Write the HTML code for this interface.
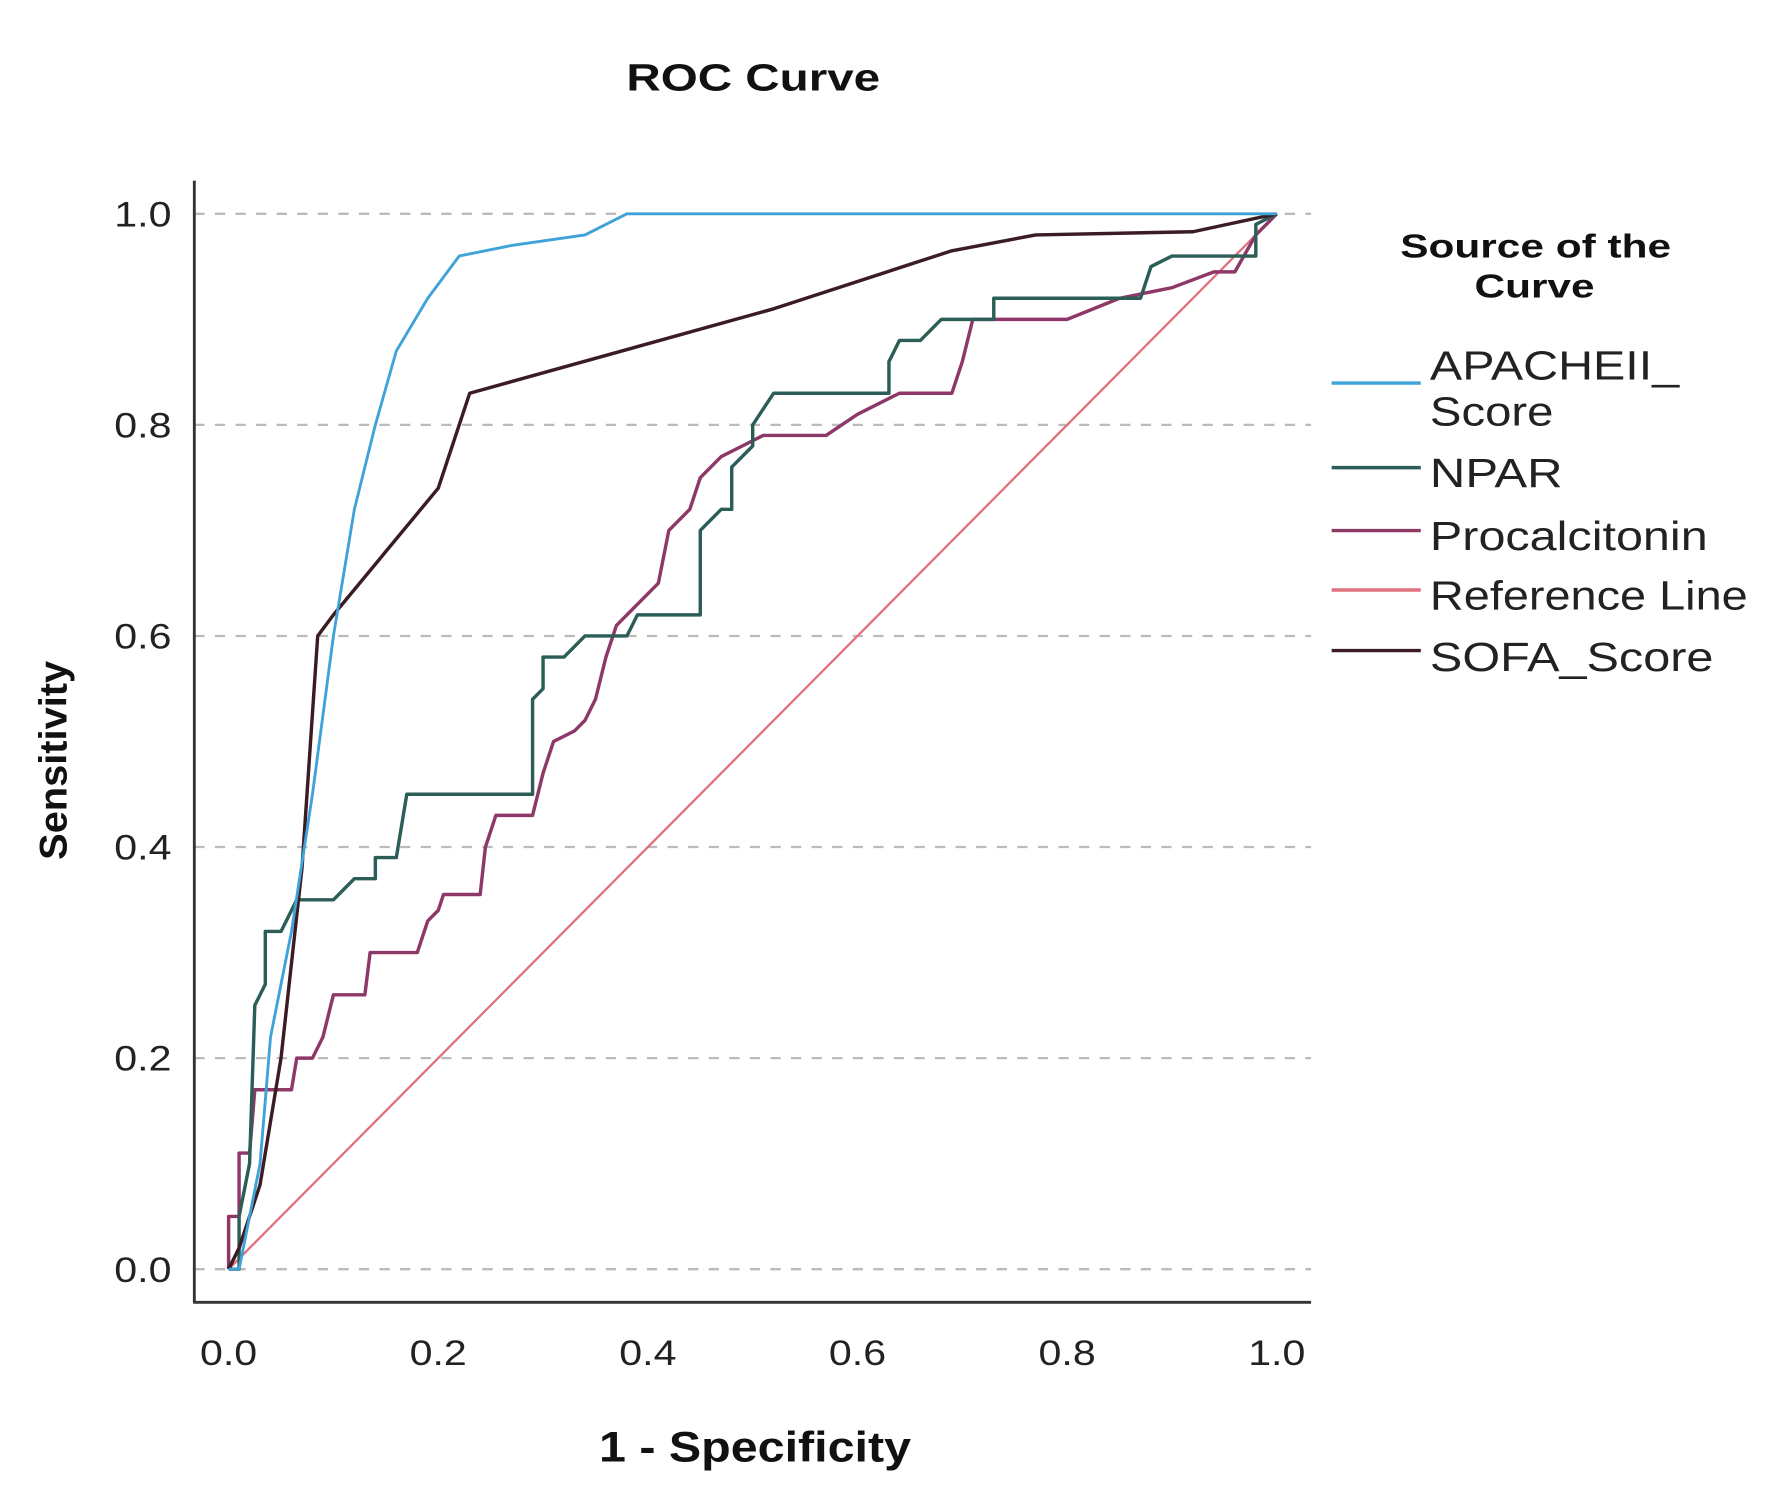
<!DOCTYPE html>
<html><head><meta charset="utf-8"><style>
html,body{margin:0;padding:0;background:#fff;}
svg{display:block;font-family:"Liberation Sans",sans-serif;}
</style></head><body>
<svg id="chart" width="1790" height="1499" viewBox="0 0 1566 1311" preserveAspectRatio="none" xmlns="http://www.w3.org/2000/svg">
<rect width="1566" height="1311" fill="#fff"/>
<text x="548" y="79" textLength="222" lengthAdjust="spacingAndGlyphs" font-size="33" font-weight="bold" fill="#111">ROC Curve</text>
<g id="grid"></g>
<line x1="170" y1="158" x2="170" y2="1139" stroke="#333" stroke-width="2.5"/>
<line x1="169" y1="1139" x2="1147" y2="1139" stroke="#333" stroke-width="2.5"/>
<g id="series"></g>
<g id="ticks"></g>
<text transform="translate(58,752) rotate(-90)" textLength="174" lengthAdjust="spacingAndGlyphs" font-size="34" font-weight="bold" fill="#111">Sensitivity</text>
<text x="524" y="1278" textLength="273" lengthAdjust="spacingAndGlyphs" font-size="37" font-weight="bold" fill="#111">1 - Specificity</text>
<g>
<text x="1225" y="225" textLength="237" lengthAdjust="spacingAndGlyphs" font-size="29" font-weight="bold" fill="#111">Source of the</text>
<text x="1290" y="260" textLength="105" lengthAdjust="spacingAndGlyphs" font-size="29" font-weight="bold" fill="#111">Curve</text>
<g id="legend-items"></g>
</g>
</svg>
<script>
const xTicks=[0,0.2,0.4,0.6,0.8,1.0];
const yTicks=[0,0.2,0.4,0.6,0.8,1.0];
const tickLabels=["0.0","0.2","0.4","0.6","0.8","1.0"];
const apacheX=[0,0.01,0.03,0.04,0.06,0.08,0.1,0.12,0.14,0.16,0.19,0.22,0.27,0.34,0.38,1];
const apacheY=[0,0,0.1,0.22,0.32,0.45,0.6,0.72,0.8,0.87,0.92,0.96,0.97,0.98,1,1];
const sofaX=[0,0.01,0.03,0.05,0.07,0.085,0.1,0.2,0.23,0.52,0.69,0.77,0.92,1];
const sofaY=[0,0.02,0.08,0.2,0.38,0.6,0.62,0.74,0.83,0.91,0.965,0.98,0.983,1];
const nparX=[0,0.01,0.01,0.02,0.025,0.035,0.035,0.05,0.065,0.1,0.11,0.12,0.14,0.14,0.16,0.17,0.29,0.29,0.3,0.3,0.32,0.34,0.38,0.39,0.45,0.45,0.47,0.48,0.48,0.5,0.5,0.52,0.63,0.63,0.64,0.66,0.68,0.73,0.73,0.87,0.88,0.9,0.98,0.98,1];
const nparY=[0,0,0.05,0.1,0.25,0.27,0.32,0.32,0.35,0.35,0.36,0.37,0.37,0.39,0.39,0.45,0.45,0.54,0.55,0.58,0.58,0.6,0.6,0.62,0.62,0.7,0.72,0.72,0.76,0.78,0.8,0.83,0.83,0.86,0.88,0.88,0.9,0.9,0.92,0.92,0.95,0.96,0.96,0.99,1];
const pctX=[0,0,0.01,0.01,0.02,0.025,0.06,0.065,0.08,0.09,0.1,0.13,0.135,0.18,0.19,0.2,0.205,0.24,0.245,0.255,0.29,0.3,0.31,0.33,0.34,0.35,0.36,0.37,0.39,0.41,0.42,0.44,0.45,0.47,0.49,0.51,0.57,0.6,0.64,0.69,0.7,0.71,0.8,0.85,0.9,0.94,0.96,0.98,1];
const pctY=[0,0.05,0.05,0.11,0.11,0.17,0.17,0.2,0.2,0.22,0.26,0.26,0.3,0.3,0.33,0.34,0.355,0.355,0.4,0.43,0.43,0.47,0.5,0.51,0.52,0.54,0.58,0.61,0.63,0.65,0.7,0.72,0.75,0.77,0.78,0.79,0.79,0.81,0.83,0.83,0.86,0.9,0.9,0.92,0.93,0.945,0.945,0.98,1];
const refX=[0,1];
const refY=[0,1];
const seriesNames=["APACHEII_Score","NPAR","Procalcitonin","Reference Line","SOFA_Score"];

const NS="http://www.w3.org/2000/svg";
function sx(v){return 200+917*v;}
function sy(v){return 1110-923*v;}
function mk(tag,attrs,parent){const e=document.createElementNS(NS,tag);for(const k in attrs)e.setAttribute(k,attrs[k]);parent.appendChild(e);return e;}
const grid=document.getElementById('grid'),ticks=document.getElementById('ticks'),ser=document.getElementById('series'),leg=document.getElementById('legend-items');
yTicks.forEach((v,i)=>{
  const l=mk('line',{x1:170,x2:1147,y1:sy(v),y2:sy(v),stroke:'#bbb','stroke-width':2,'stroke-dasharray':'9 9'},grid);
  
  
  const t=mk('text',{x:100,y:sy(v)+11,textLength:50,lengthAdjust:'spacingAndGlyphs','font-size':31,fill:'#222'},ticks);
  t.textContent=tickLabels[i];
  
  
});
xTicks.forEach((v,i)=>{
  const t=mk('text',{x:sx(v)-25,y:1194,textLength:50,lengthAdjust:'spacingAndGlyphs','font-size':31,fill:'#222'},ticks);
  t.textContent=tickLabels[i];
  
  
});
function draw(xs,ys,color,w,name){
  const p=mk('polyline',{points:xs.map((x,i)=>sx(x)+','+sy(ys[i])).join(' '),fill:'none',stroke:color,'stroke-width':w,'stroke-linejoin':'round'},ser);
  
  
}
draw(refX,refY,'#e0717c',2,'reference-line');
draw(pctX,pctY,'#8e3868',3,'procalcitonin-curve');
draw(nparX,nparY,'#2c5d57',3,'npar-curve');
draw(sofaX,sofaY,'#3a1c22',3,'sofa-score-curve');
draw(apacheX,apacheY,'#3fa2d8',2.5,'apacheii-score-curve');
const items=[
 {c:'#3fa2d8',ly:335,t:['APACHEII_','Score'],w:[218,108],ty:[332,372],n:'legend-entry-apacheii'},
 {c:'#2c5d57',ly:409,t:['NPAR'],w:[116],ty:[426],n:'legend-entry-npar'},
 {c:'#8e3868',ly:464,t:['Procalcitonin'],w:[243],ty:[481],n:'legend-entry-procalcitonin'},
 {c:'#e0717c',ly:516,t:['Reference Line'],w:[278],ty:[533],n:'legend-entry-reference-line'},
 {c:'#3a1c22',ly:569,t:['SOFA_Score'],w:[248],ty:[587],n:'legend-entry-sofa-score'}];
items.forEach(it=>{
  const g=mk('g',{},leg);
  
  
  mk('line',{x1:1165,x2:1243,y1:it.ly,y2:it.ly,stroke:it.c,'stroke-width':3},g);
  it.t.forEach((s,i)=>{const t=mk('text',{x:1251,y:it.ty[i],textLength:it.w[i],lengthAdjust:'spacingAndGlyphs','font-size':36,fill:'#222'},g);t.textContent=s;});
});
</script>
</body></html>
